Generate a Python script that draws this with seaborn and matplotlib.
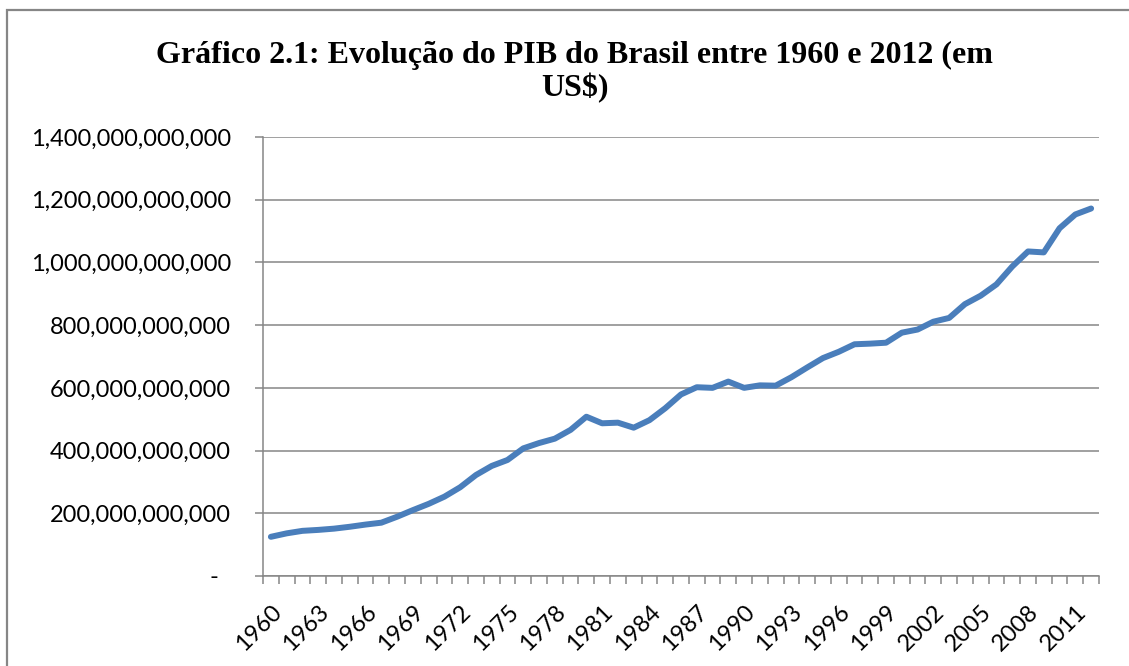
"""
PIB do Brasil 1960-2012, line chart in the Excel look
"""

import numpy as np
import pandas as pd
import matplotlib
matplotlib.use("Agg")
import matplotlib.pyplot as plt
from matplotlib.ticker import FuncFormatter, FixedLocator
from matplotlib.patches import Rectangle
import seaborn as sns

# data, in billions of US$
years = list(range(1960, 2013))
pib_bi = [125, 136, 144, 147, 151, 157, 164, 170, 189, 210,
          230, 253, 283, 322, 351, 370, 407, 424, 438, 466,
          508, 487, 489, 473, 497, 535, 579, 602, 600, 620,
          600, 608, 607, 634, 665, 695, 715, 739, 741, 744,
          776, 786, 811, 823, 867, 894, 930, 987, 1035, 1032,
          1109, 1153, 1172]
label_years = list(range(1960, 2013, 3))

df = pd.DataFrame({"ano": years, "pib": [v * 1e9 for v in pib_bi]})

sns.set_theme(style="white")
plt.rcParams["font.family"] = ["Lato", "DejaVu Sans"]

grey = "#868686"
fig = plt.figure(figsize=(11.29, 6.66), dpi=100)
ax = fig.add_axes([263 / 1129, 90 / 666, (1099 - 263) / 1129, (576 - 137) / 666])

sns.lineplot(data=df, x="ano", y="pib", ax=ax, color="#4A7EBB",
             linewidth=4.3, solid_capstyle="round", solid_joinstyle="round")

ax.set_xlim(1959.5, 2012.5)
ax.set_ylim(0, 1.4e12)
ax.set_yticks(np.arange(0, 1.41e12, 2e11))
ax.yaxis.grid(True, color=grey, linewidth=1.1)
ax.xaxis.grid(False)


def fmt(v, pos):
    if v == 0:
        return "-  "
    return "{:,.0f}".format(v)


ax.yaxis.set_major_formatter(FuncFormatter(fmt))
ax.set_xticks(label_years)
ax.set_xticklabels([str(y) for y in label_years], rotation=45,
                   ha="right", va="top", rotation_mode="anchor")
ax.xaxis.set_minor_locator(FixedLocator(np.arange(1959.5, 2013, 1)))

ax.tick_params(axis="x", which="major", length=0, pad=18, labelsize=17,
               labelcolor="black")
ax.tick_params(axis="x", which="minor", length=6, width=1.1, color=grey,
               direction="out", bottom=True)
ax.tick_params(axis="y", length=6, width=1.1, color=grey, direction="out",
               left=True, pad=17, labelsize=17, labelcolor="black")

for side in ["top", "right"]:
    ax.spines[side].set_visible(False)
for side in ["left", "bottom"]:
    ax.spines[side].set_color(grey)
    ax.spines[side].set_linewidth(1.1)

ax.set_xlabel("")
ax.set_ylabel("")

fig.text(0.509, 1 - 72 / 666,
         "Gráfico 2.1: Evolução do PIB do Brasil entre 1960 e 2012 (em\nUS$)",
         ha="center", va="center", fontsize=23, fontweight="bold",
         family="Liberation Serif", linespacing=1.15, color="black")

# chart area border (cut off at right and bottom like the original)
fig.patches.append(Rectangle((7 / 1129, -0.1), 1.2, 1.1 - 10 / 666,
                             transform=fig.transFigure, fill=False,
                             edgecolor=grey, linewidth=1.6))

fig.savefig("out.png", dpi=100)
